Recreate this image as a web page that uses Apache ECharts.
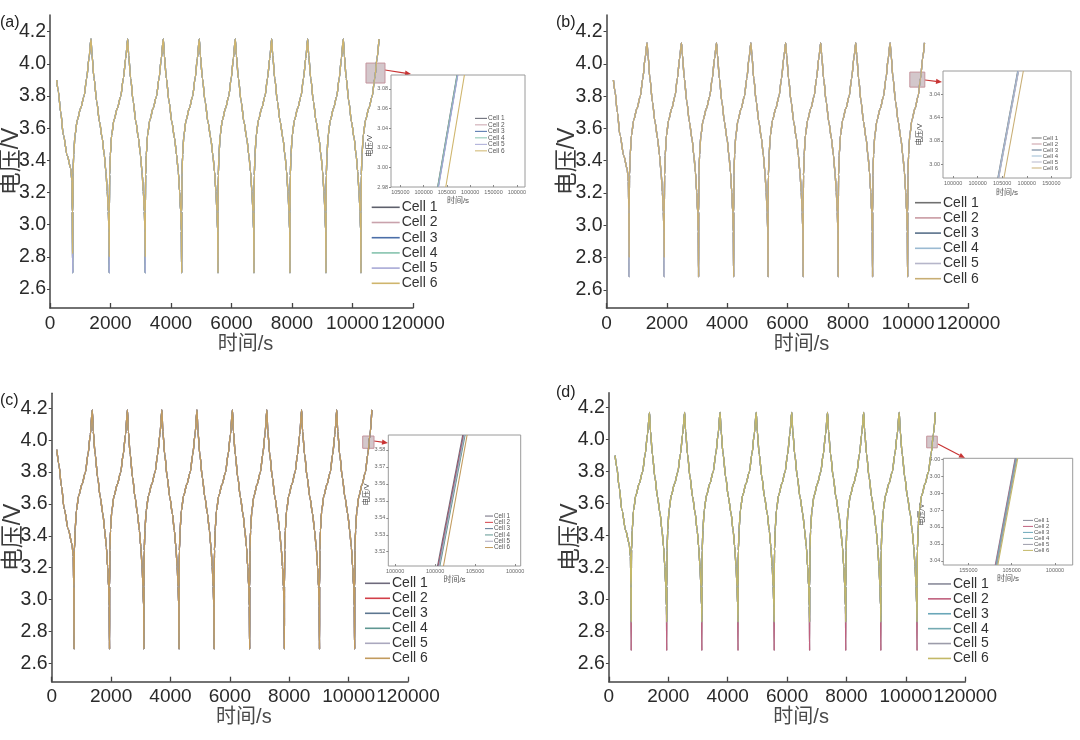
<!DOCTYPE html>
<html><head><meta charset="utf-8">
<script src="https://cdn.jsdelivr.net/npm/echarts@6/dist/echarts.min.js"></script>
<style>html,body{margin:0;padding:0;background:#fff}#c{width:1080px;height:740px}</style>
</head><body><div id="c"></div>
<script>
// ================= DATA =================
const cellNames = ['Cell 1','Cell 2','Cell 3','Cell 4','Cell 5','Cell 6'];
const xTickValues = [0,2000,4000,6000,8000,10000,12000];
const xTickLabels = ['0','2000','4000','6000','8000','10000','120000'];
const yTickValues = [2.6,2.8,3.0,3.2,3.4,3.6,3.8,4.0,4.2];
const yTickLabels = ['2.6','2.8','3.0','3.2','3.4','3.6','3.8','4.0','4.2'];

// shape of one charge step (fraction of valley->peak time, volts)
const chargeFrac = [0.002,0.018,0.054,0.127,0.254,0.436,0.617,0.764,0.891];
const chargeVolt = [3.08,3.31,3.434,3.558,3.652,3.724,3.797,3.91,4.035];
// shape of one discharge step (fraction of peak->next valley time, volts)
const dischargeFrac = [0.055,0.166,0.314,0.462,0.612,0.723,0.815,0.889,0.945,0.982];
const dischargeVolt = [4.055,3.91,3.765,3.641,3.538,3.434,3.33,3.206,3.082,2.958];

// panel (a)
const startTimeA = [221,274,354,440,572,684,727,737];
const startVoltA = [3.90,3.83,3.70,3.56,3.43,3.35,3.27,3.08];
const valleyTimeA = [750,1961,3150,4353,5554,6744,7934,9124,10281];
const peakTimeA = [1355,2569,3745,4935,6125,7329,8519,9696,10876];
const valleyVoltA = 2.70, peakVoltA = 4.155;
const upperFloorA = [2.82,2.80,2.80,2.70,2.70,2.70,2.70,2.70,2.70];
// panel (b)
const startTimeB = [229,281,360,445,575,684,725,740];
const startVoltB = [3.90,3.83,3.70,3.56,3.43,3.35,3.27,3.08];
const valleyTimeB = [752,1915,3053,4215,5357,6520,7682,8821,9983];
const peakTimeB = [1344,2485,3647,4787,5939,7101,8264,9402,10541];
const valleyVoltB = 2.68, peakVoltB = 4.13;
const upperFloorB = [2.80,2.80,2.68,2.68,2.68,2.68,2.68,2.68,2.68];
// panel (c)
const startTimeC = [174,240,330,420,560,682,728,742];
const startVoltC = [3.94,3.85,3.71,3.57,3.44,3.35,3.27,3.08];
const valleyTimeC = [754,1948,3106,4290,5471,6667,7837,9020,10203];
const peakTimeC = [1367,2551,3711,4893,6087,7246,8417,9600,10783];
const valleyVoltC = 2.69, peakVoltC = 4.19;
const upperFloorC = [2.69,2.69,2.69,2.69,2.69,2.69,2.69,2.69,2.69];
// panel (d)
const startTimeD = [209,265,348,436,568,681,726,739];
const startVoltD = [3.90,3.83,3.70,3.56,3.43,3.35,3.27,3.08];
const valleyTimeD = [751,1948,3131,4348,5565,6758,7976,9158,10376];
const peakTimeD = [1367,2550,3744,4961,6157,7361,8579,9775,10993];
const valleyVoltD = 2.68, peakVoltD = 4.17;
const upperFloorD = [2.86,2.86,2.86,2.86,2.86,2.86,2.86,2.86,2.86];

// zoom-region boxes on the main curves [time, volt]
const zoomBoxA = [[10446,3.881],[11074,4.005]];
const zoomBoxB = [[10055,3.856],[10552,3.949]];
const zoomBoxC = [[10474,3.949],[10855,4.026]];
const zoomBoxD = [[10700,3.949],[11057,4.022]];

// insets
const insetXLabelsA = ['105000','100000','105000','100000','150000','100000'];
const insetYValuesA = [2.98,3.00,3.02,3.04,3.06,3.08];
const insetYLabelsA = ['2.98','3.00','3.02','3.04','3.06','3.08'];
const insetBottomA = [1.60,1.62,1.63,1.61,1.64,1.95];
const insetTopA = [2.43,2.45,2.46,2.44,2.47,2.75];

const insetXLabelsB = ['100000','100000','105000','100000','150000'];
const insetYValuesB = [3.00,3.02,3.04,3.06];
const insetYLabelsB = ['3.00','3.08','3.64','3.04'];
const insetBottomB = [1.82,1.84,1.85,1.83,1.86,2.07];
const insetTopB = [2.63,2.65,2.66,2.64,2.67,2.86];

const insetXLabelsC = ['100000','100000','105000','100000'];
const insetYValuesC = [3.52,3.53,3.54,3.55,3.56,3.57,3.58];
const insetYLabelsC = ['3.52','3.53','3.54','3.55','3.56','3.57','3.58'];
const insetBottomC = [1.06,1.08,1.09,1.12,1.10,1.21];
const insetTopC = [1.69,1.71,1.72,1.75,1.73,1.80];

const insetXLabelsD = ['155000','105000','100000'];
const insetYValuesD = [3.04,3.05,3.06,3.07,3.08,3.09,3.10];
const insetYLabelsD = ['3.04','3.05','3.06','3.07','3.09','3.00','4.00'];
const insetBottomD = [0.62,0.63,0.64,0.65,0.66,0.68];
const insetTopD = [1.08,1.09,1.10,1.11,1.12,1.14];

// ================= STYLE / LAYOUT =================
const FONT = "'Liberation Sans', Arial, 'Noto Sans CJK SC', sans-serif";
const panels = [
  {label:'(a)', labelPos:[0,15], grid:{left:50,top:15,width:363,height:293}, y:[2.482,4.304],
   startTime:startTimeA,startVolt:startVoltA,valleyTime:valleyTimeA,peakTime:peakTimeA,
   valleyVolt:valleyVoltA,peakVolt:peakVoltA,upperFloor:upperFloorA,underCell:4,
   colors:['#5e606c','#c9a2ac','#4b6ea8','#86c3ae','#a8a9d6','#cfb56c'], box:zoomBoxA,
   legend:{left:371.7,top:199.7,w:28,gap:15.2},
   inset:{grid:{left:391,top:75,width:134,height:112}, x:[-0.4,5.35], y:[2.98,3.094],
     xl:insetXLabelsA, yv:insetYValuesA, yl:insetYLabelsA, bot:insetBottomA, top:insetTopA,
     leg:{left:475,top:115.1,w:12,gap:6.33,fs:6.5}, yGap:16, xGap:6, yPad:[0,30,0,0]},
   arrow:[385,70,411,74]},
  {label:'(b)', labelPos:[556,15], grid:{left:606.5,top:15,width:362,height:293}, y:[2.487,4.303],
   startTime:startTimeB,startVolt:startVoltB,valleyTime:valleyTimeB,peakTime:peakTimeB,
   valleyVolt:valleyVoltB,peakVolt:peakVoltB,upperFloor:upperFloorB,underCell:4,
   colors:['#707070','#c99aa2','#58708a','#9bbad2','#b6b6ca','#c8ae74'], box:zoomBoxB,
   legend:{left:915,top:195.1,w:26,gap:15.2},
   inset:{grid:{left:943,top:71,width:128,height:107}, x:[-0.41,4.8], y:[2.988,3.08],
     xl:insetXLabelsB, yv:insetYValuesB, yl:insetYLabelsB, bot:insetBottomB, top:insetTopB,
     leg:{left:1031.7,top:135,w:10,gap:5.46,fs:6}, yGap:19, xGap:11, yPad:[0,20,0,0]},
   arrow:[925,80,942,82]},
  {label:'(c)', labelPos:[0,393], grid:{left:51.7,top:393.3,width:356.3,height:288.4}, y:[2.485,4.294],
   startTime:startTimeC,startVolt:startVoltC,valleyTime:valleyTimeC,peakTime:peakTimeC,
   valleyVolt:valleyVoltC,peakVolt:peakVoltC,upperFloor:upperFloorC,underCell:5,
   colors:['#6e6a7c','#d23f48','#5c7690','#5f9792','#aaa8be','#c29b5e'], box:zoomBoxC,
   legend:{left:365,top:575.8,w:25,gap:15},
   inset:{grid:{left:388.3,top:435,width:132.4,height:131}, x:[-0.17,3.14], y:[3.5116,3.5888],
     xl:insetXLabelsC, yv:insetYValuesC, yl:insetYLabelsC, bot:insetBottomC, top:insetTopC,
     leg:{left:485,top:512.9,w:8,gap:5.7,fs:6.3}, yGap:15, xGap:6, yPad:[0,0,0,12]},
   arrow:[374,441,388,443]},
  {label:'(d)', labelPos:[556,385], grid:{left:608.9,top:392.7,width:356.4,height:289}, y:[2.485,4.294],
   startTime:startTimeD,startVolt:startVoltD,valleyTime:valleyTimeD,peakTime:peakTimeD,
   valleyVolt:valleyVoltD,peakVolt:peakVoltD,upperFloor:upperFloorD,underCell:1,
   colors:['#8a8b9a','#c0607e','#6aa7b9','#74aab2','#9c9caa','#c3b867'], box:zoomBoxD,
   legend:{left:928,top:576.5,w:23,gap:14.9},
   inset:{grid:{left:943.3,top:458.3,width:129.4,height:106.7}, x:[-0.58,2.41], y:[3.0375,3.1006],
     xl:insetXLabelsD, yv:insetYValuesD, yl:insetYLabelsD, bot:insetBottomD, top:insetTopD,
     leg:{left:1023,top:517.4,w:10,gap:5.3,fs:6}, yGap:13, xGap:6, yPad:[0,6,0,0]},
   arrow:[938,444,965,458]}
];

function buildCell(p, ci) {
  const pts = [];
  for (let k = 0; k < p.startTime.length; k++) pts.push([p.startTime[k], p.startVolt[k]]);
  const n = p.valleyTime.length;
  for (let i = 0; i < n; i++) {
    const v0 = p.valleyTime[i], pk = p.peakTime[i];
    const floor = ci > p.underCell ? p.upperFloor[i] : p.valleyVolt;
    pts.push([v0, floor]);
    for (let k = 0; k < chargeFrac.length; k++) pts.push([v0 + chargeFrac[k] * (pk - v0), chargeVolt[k]]);
    pts.push([pk, p.peakVolt]);
    if (i + 1 < n) {
      const v1 = p.valleyTime[i + 1];
      for (let k = 0; k < dischargeFrac.length; k++) pts.push([pk + dischargeFrac[k] * (v1 - pk), dischargeVolt[k]]);
    }
  }
  return pts;
}
function idxOf(arr, v) { return arr.findIndex(t => Math.abs(t - v) < 1e-6); }

const grid = [], xAxis = [], yAxis = [], series = [], legend = [], title = [], graphic = [];
panels.forEach((p, pi) => {
  const gi = grid.length;
  grid.push(Object.assign({containLabel:false, outerBoundsMode:'none'}, p.grid));
  xAxis.push({type:'value', gridIndex:gi, min:0, max:12000,
    name:'时间/s', nameLocation:'middle', nameGap:26,
    nameTextStyle:{fontFamily:FONT, fontSize:20, color:'#4a4a4a', padding:[0,0,0,28]},
    axisLine:{show:true, onZero:false, lineStyle:{color:'#444', width:1.5}},
    axisTick:{show:true, inside:true, length:5, customValues:xTickValues, lineStyle:{color:'#444', width:1.3}},
    axisLabel:{customValues:xTickValues, margin:6, fontFamily:FONT, fontSize:19, color:'#2a2a2a',
      formatter:v => xTickLabels[idxOf(xTickValues, v)]},
    splitLine:{show:false}});
  yAxis.push({type:'value', gridIndex:gi, min:p.y[0], max:p.y[1],
    name:'电压/V', nameLocation:'middle', nameGap:27, nameRotate:90, nameMoveOverlap:false,
    nameTextStyle:{fontFamily:FONT, fontSize:23, color:'#3a3a3a'},
    axisLine:{show:true, onZero:false, lineStyle:{color:'#444', width:1.5}},
    axisTick:{show:true, inside:false, length:3, customValues:yTickValues, lineStyle:{color:'#444'}},
    axisLabel:{customValues:yTickValues, margin:4, fontFamily:FONT, fontSize:19.5, color:'#2a2a2a',
      formatter:v => yTickLabels[idxOf(yTickValues, v)]},
    splitLine:{show:false}});
  cellNames.forEach((nm, ci) => {
    const s = {type:'line', name:nm, xAxisIndex:gi, yAxisIndex:gi, data:buildCell(p, ci),
      showSymbol:false, symbol:'none', smooth:0.3, smoothMonotone:'x', silent:true, animation:false,
      lineStyle:{color:p.colors[ci], width:1.3}, itemStyle:{color:p.colors[ci]}, z:2+ci};
    if (ci === 5) {
      s.markArea = {silent:true, itemStyle:{color:'rgba(196,180,186,0.75)', borderColor:'#c4939c', borderWidth:1},
        data:[[{coord:p.box[0]}, {coord:p.box[1]}]]};
    }
    series.push(s);
  });
  legend.push({orient:'vertical', left:p.legend.left, top:p.legend.top, itemWidth:p.legend.w, itemHeight:1.6,
    itemGap:0, icon:'rect', selectedMode:false, padding:0,
    textStyle:{fontFamily:FONT, fontSize:14, color:'#333', lineHeight:p.legend.gap, padding:[0,0,0,-3]},
    data:cellNames.map((nm, ci) => ({name:nm, itemStyle:{color:p.colors[ci]}}))});
  title.push({text:p.label, left:p.labelPos[0], top:p.labelPos[1], padding:0,
    textStyle:{fontFamily:FONT, fontSize:16, fontWeight:'normal', color:'#222'}});

  // inset
  const q = p.inset;
  const ii = grid.length;
  grid.push(Object.assign({containLabel:false, outerBoundsMode:'none', show:true, borderColor:'#9a9a9a', borderWidth:1, backgroundColor:'#fff', z:5}, q.grid));
  const xv = q.xl.map((_, k) => k);
  xAxis.push({type:'value', gridIndex:ii, min:q.x[0], max:q.x[1], z:6,
    name:'时间/s', nameLocation:'middle', nameGap:q.xGap,
    nameTextStyle:{fontFamily:FONT, fontSize:8, color:'#555'},
    axisLine:{show:false, onZero:false},
    axisTick:{show:true, inside:true, length:2, customValues:xv, lineStyle:{color:'#888'}},
    axisLabel:{customValues:xv, margin:3, fontFamily:FONT, fontSize:5.5, color:'#666',
      formatter:(v) => q.xl[Math.round(v)]},
    splitLine:{show:false}});
  yAxis.push({type:'value', gridIndex:ii, min:q.y[0], max:q.y[1], z:6,
    name:'电压/V', nameLocation:'middle', nameGap:q.yGap, nameRotate:90,
    nameTextStyle:{fontFamily:FONT, fontSize:7.5, color:'#444', padding:q.yPad},
    axisLine:{show:false, onZero:false},
    axisTick:{show:true, inside:false, length:2, customValues:q.yv, lineStyle:{color:'#888'}},
    axisLabel:{customValues:q.yv, margin:3, fontFamily:FONT, fontSize:5.5, color:'#666',
      formatter:v => q.yl[idxOf(q.yv, v)]},
    splitLine:{show:false}});
  cellNames.forEach((nm, ci) => {
    series.push({type:'line', name:nm, xAxisIndex:ii, yAxisIndex:ii,
      data:[[q.bot[ci], q.y[0]], [q.top[ci], q.y[1]]],
      showSymbol:false, symbol:'none', silent:true, animation:false, z:6,
      lineStyle:{color:p.colors[ci], width:1.1}, itemStyle:{color:p.colors[ci]}});
  });
  legend.push({orient:'vertical', left:q.leg.left, top:q.leg.top, itemWidth:q.leg.w, itemHeight:1,
    itemGap:0, icon:'rect', selectedMode:false, padding:0, z:8,
    textStyle:{fontFamily:FONT, fontSize:q.leg.fs, color:'#555', lineHeight:q.leg.gap, padding:[0,0,0,-4]},
    data:cellNames.map((nm, ci) => ({name:nm, itemStyle:{color:p.colors[ci]}}))});

  // arrow from zoom box to inset
  const [x1, y1, x2, y2] = p.arrow;
  const ang = Math.atan2(y2 - y1, x2 - x1), L = 6, W = 2.6;
  const bx = x2 - L * Math.cos(ang), by = y2 - L * Math.sin(ang);
  graphic.push({type:'group', z:20, silent:true, children:[
    {type:'line', shape:{x1:x1, y1:y1, x2:bx, y2:by}, style:{stroke:'#c83434', lineWidth:1.2}},
    {type:'polygon', shape:{points:[[x2, y2], [bx - W * Math.sin(ang), by + W * Math.cos(ang)], [bx + W * Math.sin(ang), by - W * Math.cos(ang)]]},
     style:{fill:'#c83434'}}]});
});

const chart = echarts.init(document.getElementById('c'), null, {renderer:'canvas'});
chart.setOption({backgroundColor:'#fff', animation:false, title, grid, xAxis, yAxis, legend, series, graphic});
</script></body></html>
